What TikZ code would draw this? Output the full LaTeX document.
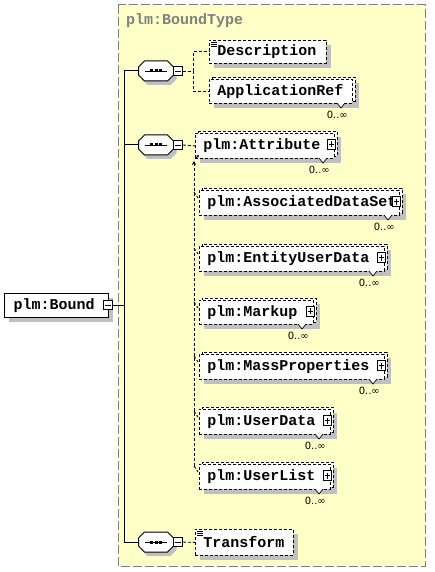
\documentclass[tikz,border=0pt]{standalone}
\usepackage{fontspec}
\newfontfamily\elfont{Liberation Mono}
\newfontfamily\occfont{DejaVu Sans}
\usetikzlibrary{arrows.meta,calc}
\definecolor{bgy}{RGB}{255,255,200}
\definecolor{shad}{RGB}{192,192,192}
\definecolor{framec}{RGB}{128,128,128}
\tikzset{
  elb/.style={draw, fill=white, dash pattern=on 3pt off 2pt, line width=0.9pt, inner xsep=8pt, inner ysep=0pt,
    font=\elfont\bfseries\fontsize{15}{16}\selectfont, align=left},
  rootb/.style={draw, fill=white, line width=1pt, inner xsep=9pt, inner ysep=0pt,
    font=\elfont\bfseries\fontsize{15}{16}\selectfont, align=left},
  dl/.style={line width=0.9pt, dash pattern=on 3pt off 2pt},
  sl/.style={line width=1pt},
  pmb/.style={draw, fill=white, solid, line width=0.8pt, minimum width=9pt, minimum height=9pt, inner sep=0pt},
  plusb/.style={pmb, minimum width=8pt, minimum height=10pt, path picture={\draw[line width=0.8pt] ([xshift=1.5pt]path picture bounding box.west) -- ([xshift=-1.5pt]path picture bounding box.east) ([yshift=-2pt]path picture bounding box.north) -- ([yshift=2pt]path picture bounding box.south);}},
  minusb/.style={pmb, path picture={\draw[line width=0.8pt] ([xshift=1.5pt]path picture bounding box.west) -- ([xshift=-1.5pt]path picture bounding box.east);}},
  occ/.style={font=\occfont\fontsize{10}{11}\selectfont, inner sep=0pt},
  seqn/.style={minimum width=35pt, minimum height=20pt, inner sep=0pt},
  octp/.style={insert path={(-17.5,-4) -- (-11.5,-10) -- (11.5,-10) -- (17.5,-4) -- (17.5,4) -- (11.5,10) -- (-11.5,10) -- (-17.5,4) -- cycle}},
  titlef/.style={font=\elfont\bfseries\fontsize{15}{16}\selectfont, text=framec, inner sep=0pt},
}
% single element box: name, x1, y1, x2, y2, text
\newcommand\elsingle[6]{%
  \fill[shad] (#2+5,#3+5) rectangle (#4+5,#5+5);
  \pgfmathsetmacro\mytw{#4-#2-16}%
  \node[elb, anchor=north west, minimum width={#4-#2}, minimum height={#5-#3}, text width=\mytw pt] (#1) at (#2,#3) {#6};
  \draw[line width=0.6pt] (#2+2,#3+2) -- (#2+8,#3+2) (#2+2,#3+4) -- (#2+8,#3+4) (#2+2,#3+6) -- (#2+8,#3+6);
}
% multiple element box: name, x1, y1, x2, y2, text, plus (1/0)
\newcommand\elmulti[7]{%
  \fill[shad] (#2+5,#3+4) rectangle (#4+7,#5+5);
  \draw[elb] (#2+3,#3-2) rectangle (#4+3,#5-2);
  \pgfmathsetmacro\mytw{#4-#2-16}%
  \node[elb, anchor=north west, minimum width={#4-#2}, minimum height={#5-#3}, text width=\mytw pt] (#1) at (#2,#3) {#6};
  \draw[line width=0.7pt, fill=white] (#4-15,#5) -- (#4-11,#5+5) -- (#4-7,#5);
  \ifnum#7=1 \node[plusb] (#1p) at (#4-3,{(#3+#5)/2-1}) {};\fi
  \node[occ, anchor=north east] (#1o) at (#4-4,#5+8) {0..∞};
}
% sequence compositor: name, cx, cy
\newcommand\octo[3]{%
  \begin{scope}[shift={(#2,#3)}]
    \fill[shad, shift={(3,4)}, octp];
    \draw[sl, fill=white, octp];
    \draw[line width=0.8pt] (-11,0) -- (11,0);
    \foreach \d in {-4.5,0,4.5} \fill (\d-1.5,-1.5) rectangle ++(3,3);
  \end{scope}
  \node[seqn] (#1) at (#2,#3) {};
  \node[minusb] (#1m) at (#2+22,#3) {};
}
\begin{document}
\begin{tikzpicture}[x=1pt,y=-1pt]
\useasboundingbox (0,0) rectangle (434,572);
\fill[white] (0,0) rectangle (434,572);
% complex type frame
\draw[framec, fill=bgy, dash pattern=on 9pt off 3pt, line width=1pt] (118,5) rectangle (425,566);
\node[titlef, anchor=base west] (title) at (126,25) {plm:BoundType};

% root
\fill[shad] (9,298) rectangle (113,322);
\node[rootb, anchor=north west, minimum width=104, minimum height=24, text width=86pt] (bound) at (4,293) {plm:Bound};
\node[minusb] (bmin) at (108,305) {};

% compositors
\octo{seqA}{156}{71}
\octo{seqB}{156}{145}
\octo{seqC}{156}{542}

% trunk
\coordinate (trunkTop) at (124,71);
\coordinate (trunkBot) at (124,542);
\draw[sl] (bmin.east) -- (bmin.east -| trunkTop);
\draw[sl] (trunkTop) -- (trunkBot);
\draw[sl] (trunkTop) -- (seqA.west);
\draw[sl] (trunkTop |- seqB.west) -- (seqB.west);
\draw[sl] (trunkBot) -- (seqC.west);

% elements
\elsingle{desc}{209}{40}{326}{63}{Description}
\elmulti{app}{209}{79}{352}{103}{ApplicationRef}{0}
\elmulti{attr}{195}{133}{334}{158}{plm:Attribute}{1}
\elmulti{ads}{199}{190}{399}{215}{plm:AssociatedDataSet}{1}
\elmulti{eud}{199}{246}{384}{271}{plm:EntityUserData}{1}
\elmulti{mkp}{199}{300}{313}{324}{plm:Markup}{1}
\elmulti{msp}{199}{354}{384}{379}{plm:MassProperties}{1}
\elmulti{usd}{199}{409}{330}{434}{plm:UserData}{1}
\elmulti{usl}{199}{464}{330}{489}{plm:UserList}{1}
\elsingle{trf}{195}{529}{293}{555}{Transform}

% first sequence links
\coordinate (jA) at (193,71);
\draw[dl] (seqAm.east) -- (jA);
\draw[dl] (jA) -- (jA |- desc.west) -- (desc.west);
\draw[dl] (jA) -- (jA |- app.west) -- (app.west);

% second sequence links
\draw[dl] (seqBm.east) -- (attr.west);
\coordinate (vtop) at (194,161);
\coordinate (vbot) at (194,466);
\draw[dl, -{Stealth[length=4pt,width=4pt]}] (vbot) -- (vtop);
\coordinate (dstart) at (196,158);
\draw[dl, -{Stealth[length=3pt,width=3pt]}] (dstart) -- ([shift={(4,-4)}]attr.south west);
\foreach \b in {ads,eud,mkp,msp,usd,usl}
  \draw[dl] ($(vtop |- \b.north)+(0,2)$) -- ($(\b.north west)+(-1,8)$);

% third sequence link
\draw[dl] (seqCm.east) -- (trf.west);
\end{tikzpicture}
\end{document}
